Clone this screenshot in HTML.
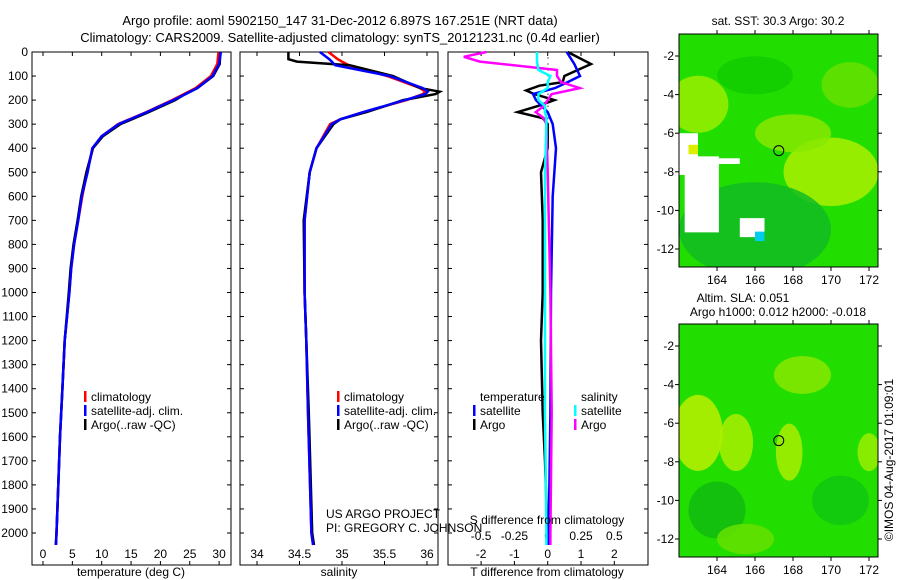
<!DOCTYPE html>
<html><head><meta charset="utf-8"><style>
body{margin:0;background:#fff;}
svg{display:block;font-family:"Liberation Sans",sans-serif;}
text{font-size:12px;fill:#000;}
</style></head><body>
<svg id="c" width="900" height="580" viewBox="0 0 900 580">
<text x="340" y="25" text-anchor="middle" style="font-size:13px">Argo profile: aoml 5902150_147 31-Dec-2012 6.897S 167.251E (NRT data)</text>
<text x="340" y="42" text-anchor="middle" style="font-size:13px">Climatology: CARS2009. Satellite-adjusted climatology: synTS_20121231.nc (0.4d earlier)</text>
<g id="g1"></g>
<g id="g2"></g>
<g id="g3"></g>
<g id="m1"></g>
<g id="m2"></g>
<text transform="translate(893,460) rotate(-90)" text-anchor="middle">©IMOS 04-Aug-2017 01:09:01</text>
</svg>
<script>
const NS="http://www.w3.org/2000/svg";
const depthTicks=[0,100,200,300,400,500,600,700,800,900,1000,1100,1200,1300,1400,1500,1600,1700,1800,1900,2000];
const tDepth=[0,50,100,150,175,200,250,300,350,400,500,600,700,800,900,1000,1200,1400,1600,1800,2000,2050];
const tClim=[29.9,29.7,28.6,26.0,24.0,22.0,17.6,12.8,10.0,8.5,7.5,6.7,6.0,5.3,4.8,4.5,3.7,3.3,2.9,2.6,2.3,2.2];
const tSat=[30.3,30.0,28.9,26.3,24.3,22.2,17.7,12.9,10.0,8.4,7.6,6.6,6.0,5.3,4.8,4.5,3.7,3.3,2.9,2.6,2.3,2.2];
const tArgo=[30.2,30.1,29.0,26.3,24.2,22.5,18.0,13.2,10.2,8.5,7.4,6.5,5.9,5.2,4.7,4.4,3.7,3.3,2.9,2.6,2.3,2.2];
const tTicks=[0,5,10,15,20,25,30];
const sDepth=[0,30,40,55,100,150,165,175,200,250,280,300,400,500,700,1000,1200,1500,2000,2050];
const sClim=[34.84,34.95,35.0,35.08,35.53,35.92,35.98,35.95,35.76,35.25,34.98,34.86,34.7,34.62,34.56,34.56,34.58,34.6,34.64,34.66];
const sSat=[34.74,34.85,34.88,34.92,35.56,35.95,36.01,35.98,35.74,35.25,34.98,34.88,34.7,34.62,34.56,34.56,34.58,34.6,34.64,34.66];
const sArgo=[34.37,34.37,34.47,35.09,35.6,35.92,36.15,36.1,35.72,35.29,34.98,34.9,34.7,34.62,34.55,34.56,34.58,34.61,34.65,34.67];
const sTicks=[34,34.5,35,35.5,36];
const sTickLbl=["34","34.5","35","35.5","36"];
const dtDepth=[0,50,100,125,150,175,200,250,300,400,600,1000,1500,2000,2050];
const dtSat=[0.57,0.8,0.97,0.6,0.22,-0.44,-0.35,0.0,0.15,0.25,0.15,0.1,0.08,0.03,0.03];
const daDepth=[0,50,75,100,125,140,160,175,200,225,250,275,300,400,500,700,1000,1200,1500,1700,2000,2050];
const dtArgo=[0.6,1.3,0.9,0.5,0.45,-0.25,-0.65,-0.4,0.2,-0.3,-0.9,-0.15,0,0,-0.2,-0.15,-0.15,-0.2,-0.15,-0.08,-0.01,-0.01];
const dsDepth=[0,20,40,75,100,125,150,175,200,225,250,275,300,500,1000,1500,2000,2050];
const dsArgo=[-0.46,-0.63,-0.51,0.07,0.07,0.1,0.24,0.03,0.0,-0.03,-0.09,-0.03,-0.01,0.0,0.02,0.03,0.02,0.02];
const dsSat=[-0.08,-0.08,-0.08,-0.07,0.02,0.0,0.0,-0.07,-0.07,-0.02,-0.02,-0.01,-0.01,-0.02,-0.02,-0.02,-0.01,-0.01];
const dtTicks=[-2,-1,0,1,2];
const dsTicks=[-0.5,-0.25,0,0.25,0.5];
const dsTickLbl=["-0.5","-0.25","0","0.25","0.5"];

function el(tag,attrs,parent,txt){const e=document.createElementNS(NS,tag);for(const k in attrs)e.setAttribute(k,attrs[k]);if(txt!==undefined)e.textContent=txt;parent.appendChild(e);return e;}
const Y0=52,Y1=565;
const yD=d=>52+d*0.2405;
function frame(g,x0,x1){
  const r=el('rect',{x:x0,y:Y0,width:x1-x0,height:Y1-Y0,fill:'none',stroke:'#000','stroke-width':1},g);
  
  
  depthTicks.forEach(d=>{const y=yD(d);
    el('line',{x1:x0,x2:x0+4,y1:y,y2:y,stroke:'#000'},g);
    el('line',{x1:x1-4,x2:x1,y1:y,y2:y,stroke:'#000'},g);});
}
function line(g,xs,ds,fx,color,name){
  const pts=xs.map((v,i)=>fx(v).toFixed(1)+','+yD(ds[i]).toFixed(1)).join(' ');
  const p=el('polyline',{points:pts,fill:'none',stroke:color,'stroke-width':2.5},g);
  
  
}
function legend(g,x,y,items){
  items.forEach((it,i)=>{
    if(it[1])el('rect',{x:x,y:y+i*14-10,width:2.5,height:11,fill:it[1]},g);
    const t=el('text',{x:x+7,y:y+i*14},g,it[0]);
    
    
  });
}
const g1=document.getElementById('g1');
const xT=v=>43+v*5.87;
frame(g1,32,231);
depthTicks.forEach(d=>{const t=el('text',{x:28,y:yD(d)+4,'text-anchor':'end'},g1,String(d));
  });
tTicks.forEach(v=>{const x=xT(v);el('line',{x1:x,x2:x,y1:Y0,y2:Y0+4,stroke:'#000'},g1);el('line',{x1:x,x2:x,y1:Y1-4,y2:Y1,stroke:'#000'},g1);
  const t=el('text',{x:x,y:558,'text-anchor':'middle'},g1,String(v));});
line(g1,tClim,tDepth,xT,'#ff0000','temp-climatology-line');
line(g1,tArgo,tDepth,xT,'#000','temp-argo-line');
line(g1,tSat,tDepth,xT,'#0000ff','temp-satellite-line');
legend(g1,84,401,[['climatology','#f00'],['satellite-adj. clim.','#00f'],['Argo(..raw -QC)','#000']]);
el('text',{x:131,y:576,'text-anchor':'middle'},g1,'temperature (deg C)');
const g2=document.getElementById('g2');
const xS=v=>257+(v-34)*85;
frame(g2,240,438);
sTicks.forEach((v,i)=>{const x=xS(v);el('line',{x1:x,x2:x,y1:Y0,y2:Y0+4,stroke:'#000'},g2);el('line',{x1:x,x2:x,y1:Y1-4,y2:Y1,stroke:'#000'},g2);
  const t=el('text',{x:x,y:558,'text-anchor':'middle'},g2,sTickLbl[i]);});
line(g2,sClim,sDepth,xS,'#ff0000','sal-climatology-line');
line(g2,sArgo,sDepth,xS,'#000','sal-argo-line');
line(g2,sSat,sDepth,xS,'#0000ff','sal-satellite-line');
legend(g2,337,401,[['climatology','#f00'],['satellite-adj. clim.','#00f'],['Argo(..raw -QC)','#000']]);
el('text',{x:339,y:576,'text-anchor':'middle'},g2,'salinity');
el('text',{x:326,y:518},g2,'US ARGO PROJECT');
el('text',{x:326,y:532},g2,'PI: GREGORY C. JOHNSON');
const g3=document.getElementById('g3');
const xD=v=>547.7+v*33.3;
const xDS=v=>547.7+v*4*33.3;
frame(g3,448,648);
for(let d=0;d<=300;d+=25){el('circle',{cx:548,cy:yD(d),r:0.6,fill:'#000'},g3);}
dtTicks.forEach(v=>{const x=xD(v);el('line',{x1:x,x2:x,y1:Y0,y2:Y0+4,stroke:'#000'},g3);el('line',{x1:x,x2:x,y1:Y1-4,y2:Y1,stroke:'#000'},g3);
  const t=el('text',{x:x,y:558,'text-anchor':'middle'},g3,String(v));});
dsTicks.forEach((v,i)=>{const t=el('text',{x:xDS(v),y:540,'text-anchor':'middle'},g3,dsTickLbl[i]);});
line(g3,dtArgo,daDepth,xD,'#000','tdiff-argo-line');
line(g3,dtSat,dtDepth,xD,'#0000ff','tdiff-satellite-line');
line(g3,dsArgo,dsDepth,xDS,'#ff00ff','sdiff-argo-line');
line(g3,dsSat,dsDepth,xDS,'#00ffff','sdiff-satellite-line');
legend(g3,473,401,[['temperature',null],['satellite','#00f'],['Argo','#000']]);
legend(g3,574,401,[['salinity',null],['satellite','#0ff'],['Argo','#f0f']]);
el('text',{x:547,y:524,'text-anchor':'middle'},g3,'S difference from climatology');
el('text',{x:547,y:576,'text-anchor':'middle'},g3,'T difference from climatology');

function map(id,top,blobs,whites){
  const g=document.getElementById(id);
  const x0=679,x1=878,y0=top,y1=top+233;
  const lx=v=>717+(v-164)*19, ly=v=>y0+22+(-2-v)*19.3;
  const cp=el('clipPath',{id:'cp'+id},g);el('rect',{x:x0,y:y0,width:x1-x0,height:y1-y0},cp);
  const inner=el('g',{'clip-path':'url(#cp'+id+')'},g);
  el('rect',{x:x0,y:y0,width:x1-x0,height:y1-y0,fill:'#22dd00'},inner);
  blobs.forEach(b=>el('ellipse',{cx:lx(b[0]),cy:ly(b[1]),rx:b[2]*19,ry:b[3]*19,fill:b[4],opacity:0.85},inner));
  whites.forEach(w=>el('rect',{x:lx(w[0]),y:ly(w[1]),width:w[2]*19,height:w[3]*19,fill:w[4]||'#fff'},inner));
  el('circle',{cx:lx(167.25),cy:ly(-6.9),r:5,fill:'none',stroke:'#000'},g);
  el('rect',{x:x0,y:y0,width:x1-x0,height:y1-y0,fill:'none',stroke:'#000'},g);
  [164,166,168,170,172].forEach(v=>{const x=lx(v);el('line',{x1:x,x2:x,y1:y0-4,y2:y0,stroke:'#000'},g);el('line',{x1:x,x2:x,y1:y1,y2:y1+4,stroke:'#000'},g);
    el('text',{x:x,y:y1+17,'text-anchor':'middle'},g,String(v));});
  [-2,-4,-6,-8,-10,-12].forEach(v=>{const y=ly(v);el('line',{x1:x0-4,x2:x0,y1:y,y2:y,stroke:'#000'},g);el('line',{x1:x1,x2:x1+4,y1:y,y2:y,stroke:'#000'},g);
    el('text',{x:x0-5,y:y+4,'text-anchor':'end'},g,String(v));});
}
map('m1',34,
 [[163,-4.5,1.6,1.5,'#99ee00'],[170,-8,2.5,1.8,'#aaf000'],[168,-6,2,1,'#88e800'],[166,-3,2,1,'#11cc00'],[166,-11,4,2.5,'#11bb22'],[171,-3.5,1.5,1.2,'#66e000']],
 [[162,-6,1,2.2],[162.3,-7.2,1.8,4],[163.5,-7.3,1.7,0.3],[165.2,-10.4,1.3,1],[166,-11.1,0.5,0.5,'#00ccee'],[162.5,-6.6,0.5,0.5,'#ddee00']]);
(function(){const g=document.getElementById('m1');
 el('text',{x:778,y:25,'text-anchor':'middle'},g,'sat. SST: 30.3 Argo: 30.2');})();
map('m2',324,
 [[163,-6.5,1.3,2,'#bbf000'],[165,-7,0.9,1.5,'#aaee00'],[167.8,-7.5,0.7,1.5,'#aaee00'],[168.5,-3.5,1.5,1,'#88e800'],[164,-10.5,1.5,1.5,'#11bb11'],[170.5,-10,1.5,1.3,'#11c811'],[172,-7.5,0.6,1,'#99ee00'],[165.5,-12,1.5,0.8,'#66e000']],
 []);
(function(){const g=document.getElementById('m2');
 el('text',{x:743,y:302,'text-anchor':'middle'},g,'Altim. SLA: 0.051');
 el('text',{x:778,y:316,'text-anchor':'middle'},g,'Argo h1000: 0.012 h2000: -0.018');})();
</script>
</body></html>
